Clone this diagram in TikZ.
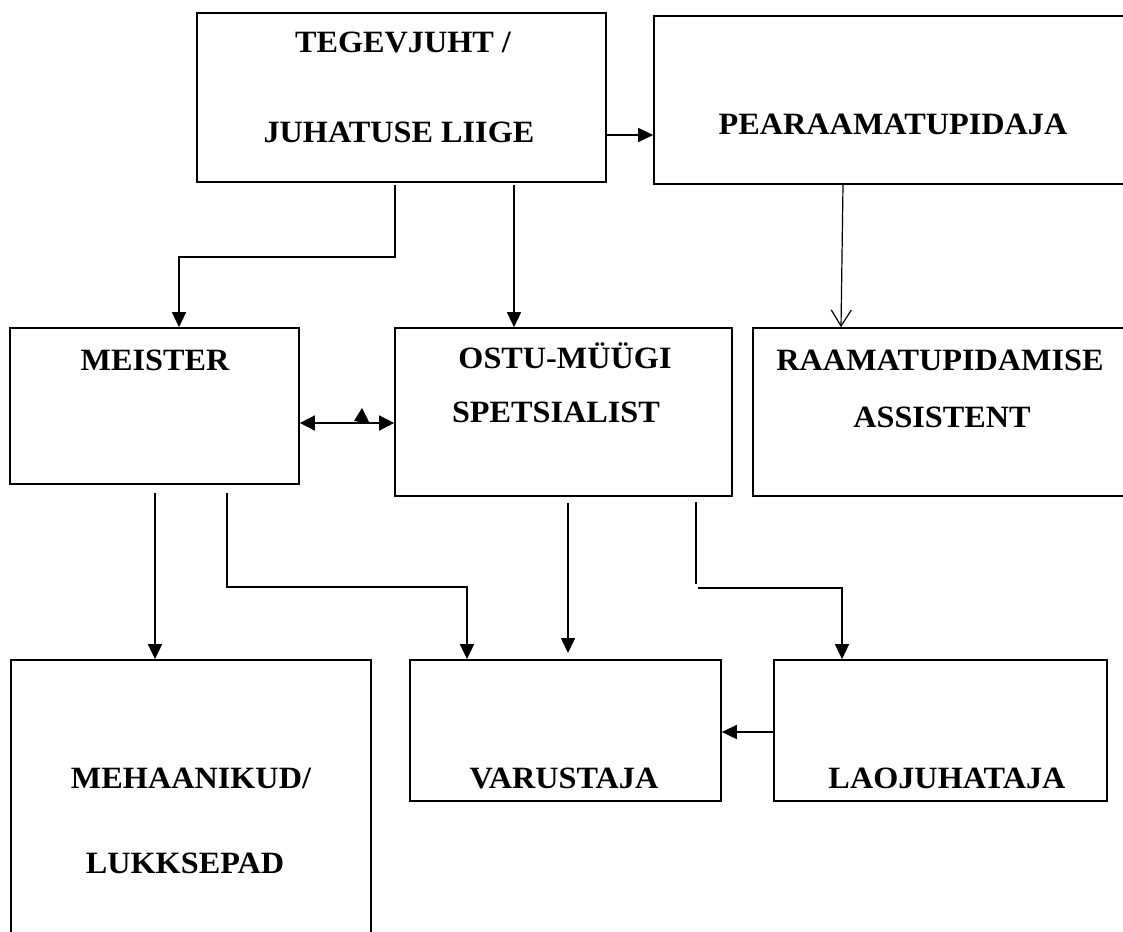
\documentclass[tikz,border=0pt]{standalone}
\usepackage{fontspec}
\setmainfont{Liberation Serif}[FakeStretch=1.04]
\usetikzlibrary{arrows.meta}
\begin{document}
\begin{tikzpicture}[x=1pt,y=-1pt,
  box/.style={draw,line width=1.7pt,inner sep=0pt},
  lbl/.style={font=\fontsize{31}{37}\selectfont\bfseries,anchor=base,inner sep=0pt},
  conn/.style={line width=1.6pt},
  arr/.style={conn,-{Triangle[length=15pt,width=14pt]}},
  dblarr/.style={conn,{Triangle[length=15pt,width=15pt]}-{Triangle[length=15pt,width=15pt]}},
  openarr/.style={line width=1.2pt,-{Straight Barb[length=16pt,width=20pt,line width=1.2pt]}}]
\useasboundingbox (0,0) rectangle (1123,931);
\clip (0,0) rectangle (1123,931);
  \node[box,minimum width=409pt,minimum height=169pt] (juht) at (401.5,97.5) {};
  \node[box,minimum width=481pt,minimum height=168pt] (pear) at (894.5,100) {};
  \node[box,minimum width=289pt,minimum height=156pt] (meister) at (154.5,406) {};
  \node[box,minimum width=337pt,minimum height=168pt] (ostu) at (563.5,412) {};
  \node[box,minimum width=382pt,minimum height=168pt] (raam) at (944,412) {};
  \node[box,minimum width=360pt,minimum height=290pt] (meh) at (191,805) {};
  \node[box,minimum width=311pt,minimum height=141pt] (varu) at (565.5,730.5) {};
  \node[box,minimum width=333pt,minimum height=141pt] (laoj) at (940.5,730.5) {};

  \node[lbl] (juht-a) at (403,53) {TEGEVJUHT /};
  \node[lbl] (juht-b) at (399,142) {JUHATUSE LIIGE};
  \node[lbl] (pear-a) at (893,135) {PEARAAMATUPIDAJA};
  \node[lbl] (meister-a) at (155,370) {MEISTER};
  \node[lbl] (ostu-a) at (565,368) {OSTU-MÜÜGI};
  \node[lbl] (ostu-b) at (556,422) {SPETSIALIST};
  \node[lbl] (raam-a) at (940,370) {RAAMATUPIDAMISE};
  \node[lbl] (raam-b) at (942,427) {ASSISTENT};
  \node[lbl] (meh-a) at (191,788) {MEHAANIKUD/};
  \node[lbl] (meh-b) at (185,873) {LUKKSEPAD};
  \node[lbl] (varu-a) at (564,788) {VARUSTAJA};
  \node[lbl] (laoj-a) at (947,788) {LAOJUHATAJA};

\coordinate (j-m) at (395,185);
\coordinate (j-o) at (514,185);
\coordinate (m1) at (155,493);
\coordinate (m2) at (227,493);
\coordinate (o1) at (568,503);
\coordinate (o2) at (696,502);

\draw[arr] ([yshift=-37.5pt]juht.east) coordinate (j-p) -- (j-p -| pear.west);
\draw[arr] (j-m) -- ++(0,72) -| ([xshift=24.5pt]meister.north);
\draw[arr] (j-o) -- (j-o |- ostu.north);
\draw[openarr] ([xshift=-51.5pt]pear.south) -- ([xshift=-103pt]raam.north);

\draw[dblarr] ([yshift=-17pt]meister.east) coordinate (m-o) -- (m-o -| ostu.west);
\fill (354,421) -- (362,408) -- (370,424) -- cycle;
\draw[line width=2.6pt] (347,423) -- (370,423);

\draw[arr] (m1) -- (m1 |- meh.north);
\draw[arr] (m2) -- ++(0,94) -| ([xshift=-98.5pt]varu.north);
\draw[arr] (o1) -- ++(0,150);
\draw[conn] (o2) -- ++(0,82) coordinate (o3);
\draw[arr] ([shift={(2pt,-4pt)}]o3) -| ([xshift=-98.5pt]laoj.north);
\draw[arr] ([yshift=-1.5pt]laoj.west) coordinate (l1) -- (l1 -| varu.east);
\end{tikzpicture}
\end{document}
